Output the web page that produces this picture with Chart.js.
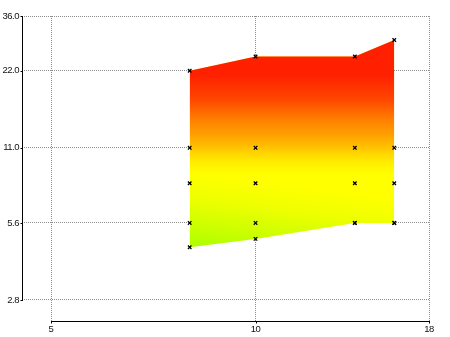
<!DOCTYPE html>
<html>
<head>
<meta charset="utf-8">
<script src="https://cdn.jsdelivr.net/npm/chart.js@4"></script>
<style>
  body { margin: 0; background: #fff; }
</style>
</head>
<body>
<canvas id="myChart" width="450" height="337"></canvas>
<script>
// data
var xs = [8, 10, 14, 16];
var upper = [22, 25, 25, 29];
var lower = [4.5, 4.85, 5.6, 5.6];
var levels = [11, 8, 5.6];          // marker rows inside the band
var xTicks = [5, 10, 18];
var yTicks = [2.8, 5.6, 11, 22, 36];

function pts(ys) {
	return xs.map(function (x, i) { return { x: x, y: ys[i] }; });
}

var markerPts = [];
levels.forEach(function (v) {
	xs.forEach(function (x) { markerPts.push({ x: x, y: v }); });
});
markerPts = markerPts.concat(pts(upper), pts(lower));

// lower layer: tilted green -> yellow
function fillLow(context) {
	var chart = context.chart;
	if (!chart.chartArea) return '#ffff00';
	var sx = chart.scales.x, sy = chart.scales.y;
	var x0 = sx.getPixelForValue(xs[0]);
	var yb = sy.getPixelForValue(lower[0]) + 2;
	var g = chart.ctx.createLinearGradient(x0, yb, x0 + 28, yb - 205);
	g.addColorStop(0, '#a8ff00');
	g.addColorStop(0.12, '#ccff00');
	g.addColorStop(0.25, '#eeff00');
	g.addColorStop(0.37, '#ffff00');
	g.addColorStop(1, '#ffff00');
	return g;
}

// upper layer: vertical yellow-orange -> red, fading out downwards
function fillHigh(context) {
	var chart = context.chart;
	var a = chart.chartArea;
	if (!a) return 'rgba(255,0,0,0)';
	var g = chart.ctx.createLinearGradient(0, a.top + 159, 0, a.top + 44);
	g.addColorStop(0, 'rgba(255,230,0,0)');
	g.addColorStop(0.235, 'rgba(255,196,0,1)');
	g.addColorStop(0.35, '#ffa000');
	g.addColorStop(0.48, '#ff8000');
	g.addColorStop(0.65, '#ff4800');
	g.addColorStop(0.87, '#ff2000');
	g.addColorStop(1, '#ff2000');
	return g;
}

var axisLines = {
	id: 'axisLines',
	beforeDraw: function (chart) {
		chart.ctx.letterSpacing = '-0.5px';
	},
	afterDraw: function (chart) {
		var ctx = chart.ctx, sx = chart.scales.x, sy = chart.scales.y;
		var a = chart.chartArea;
		ctx.save();
		ctx.strokeStyle = '#000';
		ctx.lineWidth = 1;
		ctx.beginPath();
		var xl = Math.round(a.left) + 0.5;
		ctx.moveTo(xl, Math.round(sy.getPixelForValue(yTicks[yTicks.length - 1])));
		ctx.lineTo(xl, Math.round(sy.getPixelForValue(yTicks[0])) + 1);
		var yl = Math.round(a.bottom) - 0.5;
		ctx.moveTo(Math.round(sx.getPixelForValue(xTicks[0])), yl);
		ctx.lineTo(Math.round(sx.getPixelForValue(xTicks[xTicks.length - 1])) + 1, yl);
		yTicks.forEach(function (t) {
			var p = Math.round(sy.getPixelForValue(t)) + 0.5;
			ctx.moveTo(xl - 2, p);
			ctx.lineTo(xl, p);
		});
		xTicks.forEach(function (t) {
			var p = Math.round(sx.getPixelForValue(t)) + 0.5;
			ctx.moveTo(p, yl);
			ctx.lineTo(p, yl + 2);
		});
		ctx.stroke();
		ctx.restore();
	}
};

var ctx = document.getElementById('myChart').getContext('2d');
const chart = new Chart(ctx, {
	type: 'line',
	data: {
		datasets: [{
			label: 'lower',
			data: pts(lower),
			fill: false,
			borderWidth: 0,
			pointRadius: 0,
			tension: 0,
			order: 4
		}, {
			label: 'band low',
			data: pts(upper),
			fill: 0,
			backgroundColor: fillLow,
			borderWidth: 0,
			pointRadius: 0,
			tension: 0,
			order: 3
		}, {
			label: 'band high',
			data: pts(upper),
			fill: 0,
			backgroundColor: fillHigh,
			borderWidth: 0,
			pointRadius: 0,
			tension: 0,
			order: 2
		}, {
			label: 'points',
			data: markerPts,
			showLine: false,
			pointStyle: 'crossRot',
			pointRadius: 2.5,
			pointBorderWidth: 1.3,
			pointBorderColor: '#000',
			pointBackgroundColor: '#000',
			order: 1
		}]
	},
	plugins: [axisLines],
	options: {
		responsive: false,
		animation: false,
		layout: { padding: { top: 16, right: 21, left: 0, bottom: 0 } },
		plugins: {
			legend: { display: false },
			tooltip: { enabled: false }
		},
		scales: {
			x: {
				type: 'logarithmic',
				min: 4.532,
				max: 18,
				afterBuildTicks: function (scale) {
					scale.ticks = xTicks.map(function (v) { return { value: v }; });
				},
				afterFit: function (scale) { scale.height = 15; },
				ticks: {
					color: '#111',
					font: { family: 'Liberation Sans, Arial', size: 9.5 },
					padding: 2,
					maxRotation: 0,
					callback: function (v) { return String(v); }
				},
				grid: {
					color: '#8c8c8c',
					lineWidth: 1,
					drawTicks: false
				},
				border: { display: false, dash: [1, 1] }
			},
			y: {
				type: 'logarithmic',
				min: 2.297,
				max: 36,
				afterBuildTicks: function (scale) {
					scale.ticks = yTicks.map(function (v) { return { value: v }; });
				},
				afterFit: function (scale) { scale.width = 22; },
				ticks: {
					color: '#111',
					font: { family: 'Liberation Sans, Arial', size: 9.5 },
					padding: 3,
					callback: function (v) { return Number(v).toFixed(1); }
				},
				grid: {
					color: '#8c8c8c',
					lineWidth: 1,
					drawTicks: false
				},
				border: { display: false, dash: [1, 1] }
			}
		}
	}
});
</script>
</body>
</html>
